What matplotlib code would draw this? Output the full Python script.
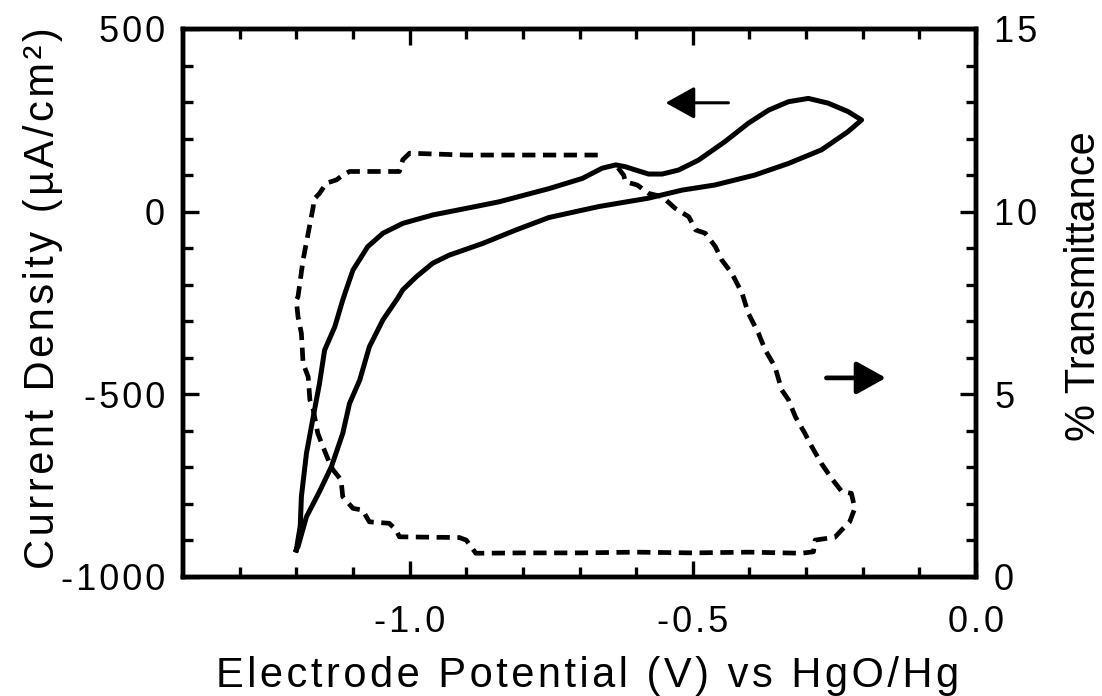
import matplotlib
matplotlib.use('Agg')
import matplotlib.pyplot as plt

plt.rcParams['font.family'] = ['Liberation Sans', 'DejaVu Sans']

# cyclic voltammogram (current density, uA/cm2) - closed loop
cv_potential = [-1.200, -1.193, -1.191, -1.182, -1.170, -1.159, -1.150, -1.132, -1.118, -1.112,
                -1.100, -1.074, -1.047, -1.012, -0.959, -0.900, -0.842, -0.754, -0.695, -0.660,
                -0.636, -0.619, -0.601, -0.578, -0.554, -0.525, -0.490, -0.443, -0.402, -0.366,
                -0.331, -0.296, -0.261, -0.226, -0.202,
                -0.226, -0.273, -0.331, -0.391, -0.461, -0.519, -0.578, -0.666, -0.754, -0.812,
                -0.871, -0.930, -0.959, -0.988, -1.012, -1.021, -1.047, -1.071, -1.088, -1.106,
                -1.118, -1.138, -1.159, -1.182, -1.197, -1.200]
cv_current = [-926, -860, -780, -661, -561, -470, -379, -315, -242, -214,
              -160, -96, -59, -32, -9, 9, 27, 63, 91, 119,
              128, 123, 114, 103, 103, 114, 141, 192, 242, 278,
              301, 310, 297, 274, 251,
              219, 169, 132, 100, 73, 59, 37, 14, -16, -50,
              -87, -119, -141, -178, -214, -237, -296, -370, -461, -525,
              -607, -698, -766, -835, -917, -926]

# % transmittance recorded during the same scan
tr_potential = [-0.632, -0.622, -0.619, -0.598, -0.578, -0.554, -0.531, -0.507, -0.495, -0.478,
                -0.460, -0.449, -0.431, -0.413, -0.402, -0.384, -0.372, -0.355, -0.343, -0.331,
                -0.319, -0.302, -0.290, -0.273, -0.255, -0.237, -0.220, -0.214, -0.223, -0.237,
                -0.249, -0.284, -0.287, -0.308, -0.400, -0.500, -0.600, -0.700, -0.800, -0.883,
                -0.900, -0.912, -1.018, -1.024, -1.036, -1.071, -1.083, -1.100, -1.118, -1.121,
                -1.135, -1.141, -1.153, -1.162, -1.170, -1.176, -1.179, -1.188, -1.191, -1.197,
                -1.200, -1.197, -1.188, -1.179, -1.170, -1.170, -1.159, -1.147, -1.129, -1.118,
                -1.106, -1.018, -1.012, -1.000, -0.900, -0.800, -0.666]
tr_percent = [11.20, 11.00, 10.82, 10.73, 10.50, 10.41, 10.09, 9.86, 9.50, 9.41,
              9.04, 8.68, 8.31, 7.77, 7.22, 6.67, 6.21, 5.76, 5.12, 4.85,
              4.39, 3.93, 3.57, 3.11, 2.70, 2.34, 2.29, 1.88, 1.51, 1.29,
              1.09, 1.01, 0.69, 0.65, 0.68, 0.66, 0.68, 0.66, 0.66, 0.65,
              1.01, 1.08, 1.10, 1.29, 1.47, 1.51, 1.83, 1.88, 2.20, 2.66,
              2.93, 3.11, 3.57, 3.93, 4.57, 4.85, 5.48, 5.85, 6.67, 7.13,
              7.58, 7.67, 8.68, 9.41, 10.14, 10.32, 10.50, 10.78, 10.87, 11.00,
              11.10, 11.10, 11.42, 11.60, 11.55, 11.55, 11.55]

x_ticks = [-1.0, -0.5, 0.0]
x_labels = ['-1.0', '-0.5', '0.0']
j_ticks = [-1000, -500, 0, 500]
j_labels = ['-1000', '-500', '0', '500']
t_ticks = [0, 5, 10, 15]
t_labels = ['0', '5', '10', '15']


def sp(s):
    # wide letter spacing like the original figure
    return '\u200a'.join(s)


fig = plt.figure(figsize=(11.02, 6.96), dpi=100)
ax = fig.add_axes([183 / 1102, 1 - 577 / 696, (976 - 183) / 1102, (577 - 29) / 696])
ax2 = ax.twinx()

ax.plot(cv_potential, cv_current, color='k', lw=3.6, solid_joinstyle='round')
ax2.plot(tr_potential, tr_percent, color='k', lw=3.4, dashes=(2.8, 1.6), dash_capstyle='butt')

ax.set_xlim(-1.4, 0.0)
ax.set_ylim(-1000, 500)
ax2.set_ylim(0, 15)

ax.set_xticks(x_ticks, labels=[sp(t) for t in x_labels])
ax.set_xticks([-1.3, -1.2, -1.1, -0.9, -0.8, -0.7, -0.6, -0.4, -0.3, -0.2, -0.1], minor=True)
ax.set_yticks(j_ticks, labels=[sp(t) for t in j_labels])
ax.set_yticks([v for v in range(-900, 500, 100) if v % 500], minor=True)
ax2.set_yticks(t_ticks, labels=[sp(t) for t in t_labels])
ax2.set_yticks([v for v in range(1, 15) if v % 5], minor=True)

for a in (ax, ax2):
    for s in a.spines.values():
        s.set_linewidth(3.2)
ax.tick_params(which='both', direction='in', top=True, right=False, width=2.4, labelsize=26)
ax.tick_params(which='major', length=11.5)
ax.tick_params(which='minor', length=7)
ax.tick_params(axis='x', pad=20)
ax.tick_params(axis='y', pad=13)
ax2.tick_params(which='both', direction='in', width=2.4, labelsize=26, pad=13)
ax2.tick_params(which='major', length=11.5)
ax2.tick_params(which='minor', length=7)

# direction arrows
ax.annotate('', xy=(-0.548, 298), xytext=(-0.437, 298),
            arrowprops=dict(arrowstyle='-|>,head_length=0.9,head_width=0.5', lw=2.2,
                            color='k', shrinkA=0, shrinkB=0, mutation_scale=20))
ax2.annotate('', xy=(-0.159, 5.45), xytext=(-0.264, 5.45),
             arrowprops=dict(arrowstyle='-|>,head_length=0.9,head_width=0.5', lw=3.4,
                             color='k', shrinkA=0, shrinkB=0, mutation_scale=20))

fig.text(588 / 1102, 1 - 687 / 696, sp('Electrode Potential (V) vs HgO/Hg'),
         fontsize=30, ha='center', va='baseline')
fig.text(54 / 1102, 1 - 298 / 696, sp('Current Density (µA/cm²)'), fontsize=30,
         rotation=90, rotation_mode='anchor', ha='center', va='baseline')
fig.text(1095 / 1102, 1 - 286 / 696, '% Transmittance', fontsize=30,
         rotation=90, rotation_mode='anchor', ha='center', va='baseline')

fig.savefig('out.png', dpi=100)
